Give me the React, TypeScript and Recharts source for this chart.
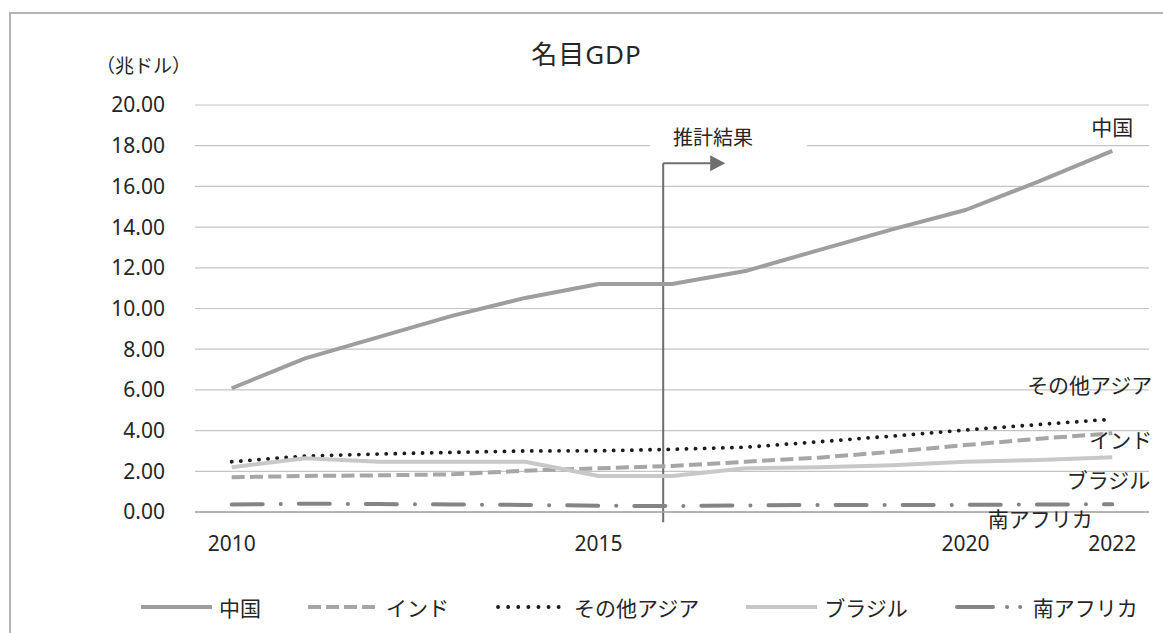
import React from 'react';
import {
  LineChart, Line, XAxis, YAxis, CartesianGrid, Legend, ReferenceLine, ReferenceDot, LabelList,
} from 'recharts';

const years = [2010, 2011, 2012, 2013, 2014, 2015, 2016, 2017, 2018, 2019, 2020, 2021, 2022];
const china = [6.08, 7.55, 8.59, 9.64, 10.52, 11.2, 11.2, 11.84, 12.87, 13.89, 14.84, 16.25, 17.75];
const india = [1.71, 1.77, 1.8, 1.85, 2.03, 2.15, 2.26, 2.47, 2.67, 2.96, 3.29, 3.6, 3.87];
const otherAsia = [2.47, 2.75, 2.85, 2.93, 3.0, 3.01, 3.08, 3.18, 3.45, 3.73, 4.03, 4.3, 4.56];
const brazil = [2.2, 2.64, 2.47, 2.47, 2.47, 1.77, 1.77, 2.15, 2.2, 2.3, 2.47, 2.55, 2.69];
const southAfrica = [0.37, 0.41, 0.39, 0.37, 0.35, 0.31, 0.29, 0.32, 0.35, 0.35, 0.35, 0.37, 0.38];

const seriesNames = ['中国', 'インド', 'その他アジア', 'ブラジル', '南アフリカ'];
const yTicks = [0, 2, 4, 6, 8, 10, 12, 14, 16, 18, 20];
const xTicks = [2010, 2015, 2020, 2022];
const title = '名目GDP';
const unitLabel = '（兆ドル）';
const estimateLabel = '推計結果';
const estimateStart = 2015.88;

const data = years.map((y, i) => ({
  year: y,
  china: china[i],
  india: india[i],
  otherAsia: otherAsia[i],
  brazil: brazil[i],
  southAfrica: southAfrica[i],
}));

const FONT = "'Noto Sans', 'Noto Sans CJK JP', sans-serif";
const TEXT = '#262626';

const styles = [
  { key: 'china', name: seriesNames[0], stroke: '#9e9ea0', width: 4, dash: undefined, cap: 'butt', lbl: { dx: 0, dy: -24, anchor: 'middle' }, legendDash: undefined },
  { key: 'india', name: seriesNames[1], stroke: '#a6a6a6', width: 4, dash: '13 5.3', cap: 'butt', lbl: { dx: 40, dy: 7, anchor: 'end' }, legendDash: '13 5' },
  { key: 'otherAsia', name: seriesNames[2], stroke: '#1c1c1c', width: 3.8, dash: '0.1 9', cap: 'round', lbl: { dx: 40, dy: -34, anchor: 'end' }, legendDash: '0.1 10' },
  { key: 'brazil', name: seriesNames[3], stroke: '#c8c8c8', width: 4, dash: undefined, cap: 'butt', lbl: { dx: 38, dy: 23, anchor: 'end' }, legendDash: undefined },
  { key: 'southAfrica', name: seriesNames[4], stroke: '#848484', width: 4, dash: '31 18 0.1 18', cap: 'round', lbl: { dx: -72, dy: 15, anchor: 'middle' }, legendDash: '36 14 0.1 13 0.1 100' },
];

const makeEndLabel = (s: any) => (props: any) => {
  const { x, y, index } = props;
  if (index !== years.length - 1) return null;
  return (
    <text
      x={x + s.lbl.dx}
      y={y + s.lbl.dy}
      textAnchor={s.lbl.anchor}
      dominantBaseline="central"
      fontSize={21}
      fontFamily={FONT}
      fill={TEXT}
    >
      {s.name}
    </text>
  );
};

const renderLegend = () => (
  <div style={{ display: 'flex', alignItems: 'center', paddingLeft: 141, height: 34, fontFamily: FONT, fontSize: 21, color: TEXT }}>
    {styles.map((s) => (
      <div key={s.key} style={{ display: 'flex', alignItems: 'center', marginRight: 47 }}>
        <svg width={71} height={10} style={{ display: 'block' }}>
          <line
            x1={s.cap === 'round' ? 2 : 0}
            y1={5}
            x2={s.cap === 'round' ? 69 : 71}
            y2={5}
            stroke={s.stroke}
            strokeWidth={s.width}
            strokeDasharray={s.legendDash}
            strokeLinecap={s.cap as any}
          />
        </svg>
        <span style={{ marginLeft: 7, whiteSpace: 'nowrap' }}>{s.name}</span>
      </div>
    ))}
  </div>
);

export default function App() {
  return (
    <div style={{ position: 'absolute', left: 0, top: 0, width: 1163, height: 633, overflow: 'hidden', background: '#fff' }}>
      <div style={{ position: 'absolute', left: 9, top: 12, width: 1300, height: 800, border: '2px solid #b4b4b4', boxSizing: 'border-box' }} />
      <div style={{ position: 'absolute', left: 0, top: 53, width: 1163, textAlign: 'center', transform: 'translateY(-50%)', paddingLeft: 10, boxSizing: 'border-box', fontFamily: FONT, fontSize: 26, letterSpacing: 1, color: TEXT }}>
        {title}
      </div>
      <div style={{ position: 'absolute', left: 96, top: 65, transform: 'translateY(-50%)', fontFamily: FONT, fontSize: 19, color: TEXT, whiteSpace: 'nowrap' }}>
        {unitLabel}
      </div>
      <div style={{ position: 'absolute', left: 0, top: 0 }}>
        <LineChart width={1163} height={633} data={data} margin={{ top: 105, right: 14, bottom: 91, left: 135 }}>
          <CartesianGrid vertical={false} stroke="#c4c4c4" strokeWidth={1.2} />
          <XAxis
            dataKey="year"
            type="number"
            domain={[2009.5, 2022.5]}
            allowDataOverflow={true}
            ticks={xTicks}
            tickLine={false}
            axisLine={{ stroke: '#a6a6a6', strokeWidth: 1.5 }}
            tickMargin={18}
            tick={{ fontSize: 21, fontFamily: FONT, fill: TEXT }}
            interval={0}
          />
          <YAxis
            width={60}
            domain={[0, 20]}
            allowDataOverflow={true}
            ticks={yTicks}
            tickLine={false}
            axisLine={false}
            tickMargin={24}
            tickFormatter={(v: number) => v.toFixed(2)}
            tick={{ fontSize: 21, fontFamily: FONT, fill: TEXT }}
            interval={0}
          />
          <ReferenceDot
            x={2016.56}
            y={18.38}
            r={0}
            ifOverflow="visible"
            shape={(p: any) => (
              <g>
                <rect x={p.cx - 63} y={p.cy - 13} width={157} height={26} fill="#fff" />
                <text x={p.cx} y={p.cy} textAnchor="middle" dominantBaseline="central" fontSize={20} fontFamily={FONT} fill={TEXT}>
                  {estimateLabel}
                </text>
              </g>
            )}
          />
          <ReferenceLine
            segment={[{ x: estimateStart, y: -0.5 }, { x: estimateStart, y: 17.14 }]}
            stroke="#6e6e6e"
            strokeWidth={2}
            ifOverflow="visible"
          />
          <ReferenceLine
            segment={[{ x: estimateStart, y: 17.14 }, { x: 2016.53, y: 17.14 }]}
            stroke="#6e6e6e"
            strokeWidth={2}
            ifOverflow="visible"
          />
          <ReferenceDot
            x={2016.52}
            y={17.14}
            r={0}
            ifOverflow="visible"
            shape={(p: any) => (
              <path d={`M${p.cx},${p.cy - 8} L${p.cx + 15},${p.cy} L${p.cx},${p.cy + 8} Z`} fill="#6e6e6e" />
            )}
          />
          {styles.map((s) => (
            <Line
              key={s.key}
              dataKey={s.key}
              name={s.name}
              type="linear"
              stroke={s.stroke}
              strokeWidth={s.width}
              strokeDasharray={s.dash}
              strokeLinecap={s.cap as any}
              strokeLinejoin="round"
              dot={false}
              activeDot={false}
              isAnimationActive={false}
            >
              <LabelList dataKey={s.key} content={makeEndLabel(s)} />
            </Line>
          ))}
          <Legend
            layout="horizontal"
            verticalAlign="middle"
            align="center"
            content={renderLegend}
            wrapperStyle={{ top: 590, left: 0, width: 1163 }}
          />
        </LineChart>
      </div>
    </div>
  );
}
